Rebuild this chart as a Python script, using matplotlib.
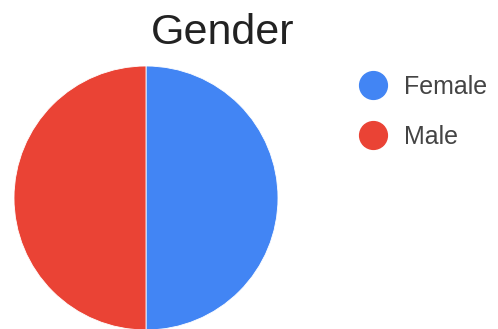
import matplotlib.pyplot as plt
from matplotlib.lines import Line2D

labels = ["Female", "Male"]
shares = [50, 50]
colors = ["#4285F4", "#EA4335"]

plt.rcParams["font.family"] = ["Liberation Sans", "DejaVu Sans"]

W, H = 498, 329
fig = plt.figure(figsize=(W / 100, H / 100), dpi=100)

# pie centred at (146, 198) px, radius 132 px
cx, cy, r = 146, 198, 132
ax = fig.add_axes([(cx - r) / W, (H - cy - r) / H, 2 * r / W, 2 * r / H])
ax.pie(shares, colors=colors, startangle=90, counterclock=False,
       wedgeprops={"linewidth": 0.6, "edgecolor": "white"})
ax.set_xlim(-1, 1)
ax.set_ylim(-1, 1)
ax.set_aspect("auto")
ax.axis("off")

fig.text(223 / W, 1 - 33 / H, "Gender", ha="center", va="center",
         fontsize=31, color="#222222")

handles = [Line2D([], [], linestyle="none", marker="o", markersize=20,
                  markerfacecolor=c, markeredgecolor=c) for c in colors]
fig.legend(handles, labels, loc="upper left", bbox_to_anchor=(345 / W, 1 - 62 / H),
           frameon=False, fontsize=18, labelspacing=1.05, handletextpad=0.65,
           handlelength=1.2, borderpad=0, labelcolor="#444444")

fig.savefig("out.png", dpi=100)
